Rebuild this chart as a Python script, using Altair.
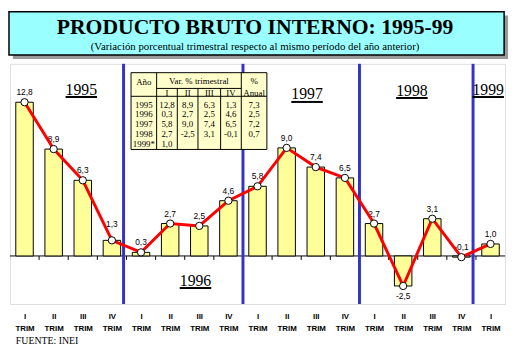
import altair as alt
import pandas as pd

# ---------------- data ----------------
quarters = ["I", "II", "III", "IV"]
years = ["1995", "1996", "1997", "1998", "1999"]
values = [12.8, 8.9, 6.3, 1.3, 0.3, 2.7, 2.5, 4.6, 5.8, 9.0, 7.4, 6.5, 2.7, -2.5, 3.1, -0.1, 1.0]
annual = [7.3, 2.5, 7.2, 0.7]
title = "PRODUCTO BRUTO INTERNO: 1995-99"
subtitle = "(Variación porcentual  trimestral  respecto al  mismo período del año anterior)"
source = "FUENTE: INEI"

# ---------------- layout ----------------
W, H = 503, 244
NX = len(values)
Y0, Y1 = -4, 16
ux = W / NX
uy = H / (Y1 - Y0)


def px2x(p):
    return p / ux


def px2y(p):
    return Y1 - p / uy


def fmt(v):
    return f"{v:.1f}".replace(".", ",")


xs = alt.Scale(domain=[0, NX], nice=False, zero=False)
ys = alt.Scale(domain=[Y0, Y1], nice=False, zero=False)
xaxis = alt.Axis(
    values=[i + 0.5 for i in range(NX)],
    labelExpr="[['I','II','III','IV'][floor(datum.value) % 4], 'TRIM']",
    ticks=False, domain=False, grid=False, title=None,
    labelFont="Liberation Sans", labelFontSize=8, labelFontWeight="bold",
    labelPadding=9, labelLineHeight=12, labelOverlap=False, labelFlush=False,
    labelBound=False, labelColor="black",
)


def X(f):
    return alt.X(f, type="quantitative", scale=xs, axis=xaxis)


def Y(f):
    return alt.Y(f, type="quantitative", scale=ys, axis=None)


df = pd.DataFrame({"i": list(range(NX)), "v": values})
df["c"] = df["i"] + 0.5
df["x0"] = df["i"] + 0.2
df["x1"] = df["i"] + 0.8
df["zero"] = 0.0
df["lab"] = [fmt(v) for v in values]
lab_off = {3: 17}
df["ly"] = [v + lab_off.get(i, 10) / uy if v > -1 else v - 10 / uy for i, v in enumerate(values)]

one = pd.DataFrame({"a": [0]})

# zero line and ticks
zero_df = pd.DataFrame({"a": [0], "b": [NX], "y": [0.0]})
zero_line = alt.Chart(zero_df).mark_rule(color="black", strokeWidth=1).encode(
    x=X("a"), x2="b", y=Y("y"))
tick_df = pd.DataFrame({"x": list(range(1, NX)), "y": 0.0, "y2": -4 / uy})
ticks = alt.Chart(tick_df).mark_rule(color="black", strokeWidth=1).encode(
    x=X("x"), y=Y("y"), y2="y2")

bars = alt.Chart(df).mark_bar(fill="#FFFF99", stroke="black", strokeWidth=1).encode(
    x=X("x0"), x2="x1", y=Y("v"), y2="zero")

sep_df = pd.DataFrame({"x": [3.9, 8.0, 12.0, 15.9], "y": float(Y0), "y2": float(Y1)})
seps = alt.Chart(sep_df).mark_rule(color="#3333CC", strokeWidth=3).encode(
    x=X("x"), y=Y("y"), y2="y2")

# ---------------- table ----------------
tx = [123, 149, 170, 191, 214, 235, 261]
t_top, t_split, t_head, t_bot = 9, 25, 33, 87
row_y = [41.5, 51.5, 61.5, 71.5, 81]

tbl_box = alt.Chart(pd.DataFrame({"x": [px2x(tx[0])], "x2": [px2x(tx[6])],
                                  "y": [px2y(t_top)], "y2": [px2y(t_bot)]})).mark_rect(
    fill="#FFFFCC", stroke="black", strokeWidth=1).encode(x=X("x"), x2="x2", y=Y("y"), y2="y2")

lines = []
for k in (1, 5):
    lines.append((tx[k], tx[k], t_top, t_bot))
for k in (2, 3, 4):
    lines.append((tx[k], tx[k], t_split, t_bot))
lines.append((tx[1], tx[5], t_split, t_split))
lines.append((tx[0], tx[6], t_head, t_head))
grid_df = pd.DataFrame({"x": [px2x(a) for a, b, c, d in lines], "x2": [px2x(b) for a, b, c, d in lines],
                        "y": [px2y(c) for a, b, c, d in lines], "y2": [px2y(d) for a, b, c, d in lines]})
tbl_grid = alt.Chart(grid_df).mark_rule(color="black", strokeWidth=1).encode(
    x=X("x"), x2="x2", y=Y("y"), y2="y2")

cells = []
ccx = [(tx[k] + tx[k + 1]) / 2 for k in range(6)]
cells.append((ccx[0], 19, "Año"))
cells.append(((tx[1] + tx[5]) / 2, 17, "Var. % trimestral"))
for q in range(4):
    cells.append((ccx[q + 1], 29.5, quarters[q]))
cells.append((ccx[5], 17, "%"))
cells.append((ccx[5], 29.5, "Anual"))
for r, yr in enumerate(years):
    cells.append((ccx[0], row_y[r], yr + ("*" if r == len(years) - 1 else "")))
    for q in range(4):
        idx = r * 4 + q
        if idx < len(values):
            cells.append((ccx[q + 1], row_y[r], fmt(values[idx])))
    if r < len(annual):
        cells.append((ccx[5], row_y[r], fmt(annual[r])))
cell_df = pd.DataFrame({"x": [px2x(a) for a, b, c in cells], "y": [px2y(b) for a, b, c in cells],
                        "t": [c for a, b, c in cells]})
tbl_text = alt.Chart(cell_df).mark_text(font="Liberation Serif", fontSize=9, color="black",
                                        align="center", baseline="middle").encode(
    x=X("x"), y=Y("y"), text="t:N")

# ---------------- year labels ----------------
year_x = [2.45, 6.37, 10.2, 13.8, 16.42]
year_y = [13.44, -2.46, 13.03, 13.36, 13.44]
yl_df = pd.DataFrame({"x": year_x, "y": year_y, "t": years})
yl_df["ux0"] = yl_df["x"] - px2x(16)
yl_df["ux1"] = yl_df["x"] + px2x(16)
yl_df["uy"] = yl_df["y"] - 2.5 / uy
year_text = alt.Chart(yl_df).mark_text(font="Liberation Serif", fontSize=16, color="black",
                                       align="center", baseline="alphabetic").encode(
    x=X("x"), y=Y("y"), text="t:N")
year_ul = alt.Chart(yl_df).mark_rule(color="black", strokeWidth=2).encode(
    x=X("ux0"), x2="ux1", y=Y("uy"))

# ---------------- series ----------------
bar_labels = alt.Chart(df).mark_text(font="Liberation Sans", fontSize=8.5, color="black",
                                     align="center", baseline="middle").encode(
    x=X("c"), y=Y("ly"), text="lab:N")
line = alt.Chart(df).mark_line(color="#FF0000", strokeWidth=3).encode(x=X("c"), y=Y("v"))
points = alt.Chart(df).mark_point(shape="circle", filled=True, fill="white", stroke="black",
                                  strokeWidth=1, size=55, opacity=1).encode(x=X("c"), y=Y("v"))

# ---------------- title / footer ----------------
shadow = alt.Chart(one).mark_rect(fill="#999999").encode(
    x=alt.value(3), x2=alt.value(506), y=alt.value(-49), y2=alt.value(-5))
tbox = alt.Chart(one).mark_rect(fill="#99FFFF", stroke="black", strokeWidth=1.5).encode(
    x=alt.value(-1), x2=alt.value(502), y=alt.value(-53), y2=alt.value(-9))
ttext = alt.Chart(one).mark_text(font="Liberation Serif", fontSize=22, fontWeight="bold",
                                 color="black", align="center", baseline="middle").encode(
    x=alt.value(249), y=alt.value(-37), text=alt.value(title))
stext = alt.Chart(one).mark_text(font="Liberation Serif", fontSize=11, color="black",
                                 align="center", baseline="middle").encode(
    x=alt.value(249), y=alt.value(-17), text=alt.value(subtitle))
ftext = alt.Chart(one).mark_text(font="Liberation Serif", fontSize=10, color="black",
                                 align="left", baseline="middle").encode(
    x=alt.value(6), y=alt.value(282), text=alt.value(source))

chart = alt.layer(
    zero_line, ticks, bars, seps, tbl_box, tbl_grid, tbl_text, year_text, year_ul,
    bar_labels, line, points, shadow, tbox, ttext, stext, ftext,
).properties(
    width=W, height=H,
    autosize=alt.AutoSizeParams(type="none"),
    padding={"left": 2, "top": 54, "right": 6, "bottom": 42},
).configure_view(stroke="black", strokeWidth=1.5).configure(background="white")

chart.save("out.html", embed_options={"renderer": "svg", "actions": False})
